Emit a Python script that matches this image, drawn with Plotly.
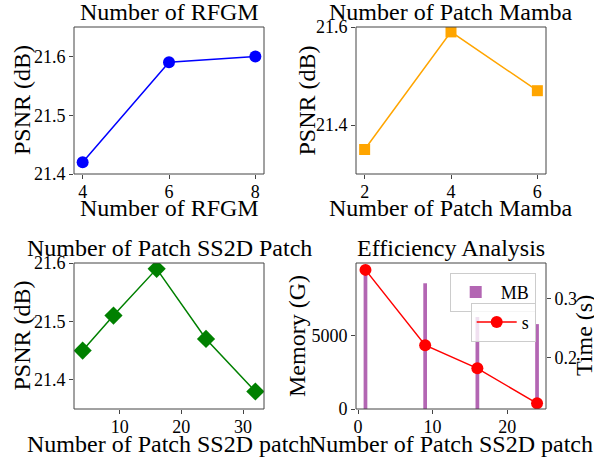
import plotly.graph_objects as go

# ---- data ----
rfgm_x = [4, 6, 8]
rfgm_psnr = [21.42, 21.59, 21.60]

mamba_x = [2, 4, 6]
mamba_psnr = [21.35, 21.59, 21.47]

ss2d_x = [4, 9, 16, 24, 32]
ss2d_psnr = [21.45, 21.51, 21.59, 21.47, 21.38]

eff_x = [1, 9, 16, 24]
memory_mb = [9430, 8530, 6240, 5760]
time_s = [0.348, 0.221, 0.182, 0.123]

titles = ["Number of RFGM", "Number of Patch Mamba",
          "Number of Patch SS2D Patch", "Efficiency Analysis"]
xlabels = ["Number of RFGM", "Number of Patch Mamba",
           "Number of Patch SS2D patch", "Number of Patch SS2D patch"]

W, H = 594, 460
FONT = "Liberation Serif, Times New Roman, serif"
SPINE = "#444444"

def px_x(v):
    return v / W

def px_y(v):
    return 1 - v / H

# axes boxes in pixels (left, right, top, bottom)
boxes = [(74, 264, 27, 174), (356, 546, 27, 174),
         (74, 264, 263, 409), (356, 546, 263, 409)]

fig = go.Figure()

fig.add_trace(go.Scatter(x=rfgm_x, y=rfgm_psnr, mode="lines+markers",
                         line=dict(color="blue", width=1.5),
                         marker=dict(symbol="circle", size=12, color="blue"),
                         xaxis="x", yaxis="y", showlegend=False))
fig.add_trace(go.Scatter(x=mamba_x, y=mamba_psnr, mode="lines+markers",
                         line=dict(color="orange", width=1.5),
                         marker=dict(symbol="square", size=11, color="orange"),
                         xaxis="x2", yaxis="y2", showlegend=False))
fig.add_trace(go.Scatter(x=ss2d_x, y=ss2d_psnr, mode="lines+markers",
                         line=dict(color="green", width=1.5),
                         marker=dict(symbol="diamond", size=14, color="green"),
                         xaxis="x3", yaxis="y3", showlegend=False))
fig.add_trace(go.Bar(x=eff_x, y=memory_mb, width=0.5, name="MB",
                     marker=dict(color="rgba(128,0,128,0.6)", line=dict(width=0)),
                     xaxis="x4", yaxis="y4", legend="legend"))
fig.add_trace(go.Scatter(x=eff_x, y=time_s, mode="lines+markers", name="s",
                         line=dict(color="red", width=1.5),
                         marker=dict(symbol="circle", size=12, color="red"),
                         xaxis="x4", yaxis="y5", legend="legend2"))

axis_common = dict(showline=False, mirror=False,
                   ticks="outside", ticklen=4, tickcolor=SPINE, tickwidth=1,
                   showgrid=False, zeroline=False, automargin=False,
                   tickfont=dict(family=FONT, size=18, color="black"))

xranges = [[3.8, 8.2], [1.8, 6.2], [2.6, 33.4], [-0.27, 25.2]]
xticks = [[4, 6, 8], [2, 4, 6], [10, 20, 30], [0, 10, 20]]
yranges = [[21.4, 21.65], [21.3, 21.6], [21.35, 21.6], [0, 9905]]
yticks = [[21.4, 21.5, 21.6], [21.4, 21.6], [21.4, 21.5, 21.6], [0, 5000]]

layout = dict(width=W, height=H,
              margin=dict(l=0, r=0, t=0, b=0, pad=0, autoexpand=False),
              paper_bgcolor="white", plot_bgcolor="white",
              font=dict(family=FONT, size=18, color="black"))

shapes = []
for i, (l, r, t, b) in enumerate(boxes):
    n = "" if i == 0 else str(i + 1)
    layout["xaxis" + n] = dict(axis_common, domain=[px_x(l), px_x(r)],
                               range=xranges[i], tickvals=xticks[i],
                               anchor="y" + n, ticklabelstandoff=-3)
    layout["yaxis" + n] = dict(axis_common, domain=[px_y(b), px_y(t)],
                               range=yranges[i], tickvals=yticks[i],
                               ticktext=[("%g" % v) for v in yticks[i]],
                               anchor="x" + n)
    shapes.append(dict(type="rect", xref="x%s domain" % n, yref="y%s domain" % n,
                       x0=0, x1=1, y0=0, y1=1, layer="above",
                       line=dict(color=SPINE, width=1), fillcolor="rgba(0,0,0,0)"))

layout["yaxis5"] = dict(axis_common, overlaying="y4", side="right", anchor="x4",
                        range=[0.1135, 0.3596], tickvals=[0.2, 0.3])

layout["legend"] = dict(x=px_x(535.7), y=px_y(272.7), xanchor="right", yanchor="top",
                        bgcolor="rgba(255,255,255,0.8)", bordercolor="#cccccc",
                        borderwidth=1, font=dict(family=FONT, size=18),
                        itemwidth=40, tracegroupgap=0)
layout["legend2"] = dict(x=px_x(535.7), y=px_y(302.7), xanchor="right", yanchor="top",
                         bgcolor="rgba(255,255,255,0.8)", bordercolor="#cccccc",
                         borderwidth=1, font=dict(family=FONT, size=18),
                         itemwidth=40, tracegroupgap=0)

annotations = []
xt_centers = [207.5, 207.5, 444, 444]
ylabel_x = [21.5, 306, 21.5, 297]
ylabels = ["PSNR (dB)", "PSNR (dB)", "PSNR (dB)", "Memory (G)"]
for i, (l, r, t, b) in enumerate(boxes):
    cx = (l + r) / 2
    annotations.append(dict(text=titles[i], x=px_x(cx), y=px_y(t), xref="paper", yref="paper",
                            xanchor="center", yanchor="bottom", showarrow=False,
                            font=dict(family=FONT, size=24, color="black")))
    annotations.append(dict(text=xlabels[i], x=px_x(cx), y=px_y(xt_centers[i]),
                            xref="paper", yref="paper", xanchor="center", yanchor="middle",
                            showarrow=False, font=dict(family=FONT, size=24, color="black")))
    annotations.append(dict(text=ylabels[i], x=px_x(ylabel_x[i]), y=px_y((t + b) / 2),
                            xref="paper", yref="paper", xanchor="center", yanchor="middle",
                            textangle=-90, showarrow=False,
                            font=dict(family=FONT, size=24, color="black")))
annotations.append(dict(text="Time (s)", x=px_x(584), y=px_y(336), xref="paper", yref="paper",
                        xanchor="center", yanchor="middle", textangle=-90, showarrow=False,
                        font=dict(family=FONT, size=24, color="black")))
layout["annotations"] = annotations
layout["shapes"] = shapes

fig.update_layout(**layout)
fig.write_html("out.html",
               config={"displayModeBar": False},
               post_script="document.body.style.margin='0';document.body.style.padding='0';")
